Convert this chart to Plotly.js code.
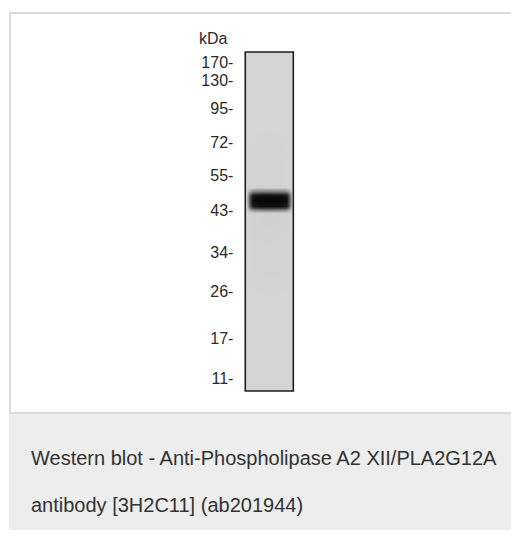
<!DOCTYPE html>
<html>
<head>
<meta charset="utf-8">
<script src="https://cdn.plot.ly/plotly-3.0.1.min.js"></script>
<style>html,body{margin:0;padding:0;background:#fff;}#chart{width:511px;height:540px;}</style>
</head>
<body>
<div id="chart"></div>
<script>
// Molecular-weight ladder (kDa) and relative migration along the lane (0 = well, 1 = bottom)
const markerKDa = [170, 130, 95, 72, 55, 43, 34, 26, 17, 11];
const markerMigration = [0.032, 0.083, 0.166, 0.268, 0.363, 0.466, 0.591, 0.705, 0.845, 0.963];
const markerLabels = markerKDa.map(v => v + '-');

// Lane (single lane, full migration length)
const laneIndex = [0];
const laneLength = [1];

// Band densitometry grid: cell edges across the lane (fraction of lane width) and along migration
const bandEdgesAcross = [-0.5, -0.49, -0.45, -0.39, -0.33, -0.17, 0.17, 0.33, 0.39, 0.45, 0.49, 0.5];
const bandEdgesMigration = [0, 0.395, 0.405, 0.415, 0.425, 0.449, 0.459, 0.469, 0.479, 1];
const bandIntensity = [
  [0, 0, 0,    0,    0,    0,    0,    0,    0,    0, 0],
  [0, 0, 0,    0,    0.02, 0.03, 0.02, 0,    0,    0, 0],
  [0, 0, 0.15, 0.32, 0.38, 0.4,  0.38, 0.32, 0.15, 0, 0],
  [0, 0, 0.4,  0.82, 0.9,  0.92, 0.9,  0.82, 0.4,  0, 0],
  [0, 0, 0.48, 0.95, 1,    1,    1,    0.95, 0.48, 0, 0],
  [0, 0, 0.4,  0.85, 0.94, 0.96, 0.94, 0.85, 0.4,  0, 0],
  [0, 0, 0.15, 0.35, 0.42, 0.45, 0.42, 0.35, 0.15, 0, 0],
  [0, 0, 0,    0.02, 0.04, 0.05, 0.04, 0.02, 0,    0, 0],
  [0, 0, 0,    0,    0,    0,    0,    0,    0,    0, 0]
];

const captionLines = [
  'Western blot - Anti-Phospholipase A2 XII/PLA2G12A',
  'antibody [3H2C11] (ab201944)'
];
const unitLabel = 'kDa';

const W = 511, H = 540;
const px = x => x / W;
const py = y => 1 - y / H;
const FONT = 'Liberation Sans, Arial, sans-serif';

const traces = [
  {
    type: 'heatmap',
    x: bandEdgesAcross,
    y: bandEdgesMigration,
    z: bandIntensity,
    zmin: 0, zmax: 1,
    zsmooth: 'best',
    colorscale: [[0, '#d5d5d5'], [0.5, '#6a6a6a'], [1, '#060606']],
    showscale: false,
    hoverinfo: 'skip'
  },
  {
    type: 'bar',
    x: laneIndex,
    y: laneLength,
    base: [0],
    width: 1,
    marker: { color: 'rgba(0,0,0,0)', line: { color: '#1c1c1c', width: 1.6 } },
    hoverinfo: 'skip'
  }
];

const layout = {
  width: W, height: H,
  margin: { l: 0, r: 0, t: 0, b: 0, pad: 0 },
  paper_bgcolor: '#ffffff',
  plot_bgcolor: 'rgba(0,0,0,0)',
  showlegend: false,
  font: { family: FONT, color: '#222' },
  xaxis: {
    domain: [px(242.4), px(296.2)],
    range: [-0.56, 0.56],
    showgrid: false, zeroline: false, showline: false,
    showticklabels: false, ticks: '', fixedrange: true
  },
  yaxis: {
    domain: [py(394.4), py(48.6)],
    range: [1.01, -0.01],
    tickmode: 'array',
    tickvals: markerMigration,
    ticktext: markerLabels,
    ticks: '',
    ticklabelstandoff: 8,
    tickfont: { size: 16, color: '#2a2a2a', family: FONT },
    showgrid: false, zeroline: false, showline: false, fixedrange: true
  },
  shapes: [
    { type: 'rect', xref: 'paper', yref: 'paper', x0: px(9), x1: 1, y0: py(530), y1: py(412),
      fillcolor: '#ecedec', line: { width: 0 }, layer: 'below' },
    { type: 'line', xref: 'paper', yref: 'paper', x0: px(9), x1: 1, y0: py(413), y1: py(413),
      line: { color: '#d9dad9', width: 2 } },
    { type: 'line', xref: 'paper', yref: 'paper', x0: px(10), x1: px(10), y0: py(12), y1: py(412),
      line: { color: '#dcdcdc', width: 2 } },
    { type: 'line', xref: 'paper', yref: 'paper', x0: px(9), x1: 1, y0: py(13), y1: py(13),
      line: { color: '#dcdcdc', width: 2 } }
  ],
  annotations: [
    { xref: 'paper', yref: 'paper', x: px(230), y: py(38.5), xanchor: 'right', yanchor: 'middle',
      text: unitLabel, showarrow: false, font: { size: 16, color: '#2a2a2a', family: FONT } },
    { xref: 'paper', yref: 'paper', x: px(29), y: py(458), xanchor: 'left', yanchor: 'middle',
      text: captionLines[0], showarrow: false, font: { size: 20, color: '#333', family: FONT } },
    { xref: 'paper', yref: 'paper', x: px(29), y: py(505), xanchor: 'left', yanchor: 'middle',
      text: captionLines[1], showarrow: false, font: { size: 20, color: '#333', family: FONT } }
  ]
};

Plotly.newPlot('chart', traces, layout, { displayModeBar: false, staticPlot: true });
</script>
</body>
</html>
